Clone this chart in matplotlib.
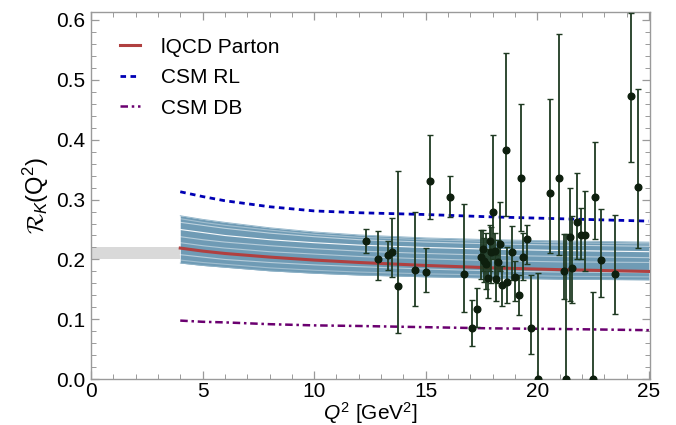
import numpy as np
import matplotlib
matplotlib.use("Agg")
import matplotlib.pyplot as plt
from matplotlib.ticker import MultipleLocator

plt.rcParams['font.family'] = ['Liberation Sans', 'DejaVu Sans']
plt.rcParams['mathtext.fontset'] = 'custom'
plt.rcParams['mathtext.rm'] = 'Liberation Sans'
plt.rcParams['mathtext.it'] = 'Liberation Sans:italic'
plt.rcParams['mathtext.cal'] = 'cmsy10'

# ---------------- data ----------------
# theory curves sampled at these Q^2 values
q2_curve = [4, 5, 6, 8, 10, 12, 15, 18, 21, 25]
iqcd_parton = [0.219, 0.214, 0.210, 0.204, 0.199, 0.195, 0.190, 0.186, 0.183, 0.180]
csm_rl = [0.313, 0.305, 0.298, 0.288, 0.281, 0.278, 0.275, 0.271, 0.268, 0.264]
csm_db = [0.098, 0.096, 0.095, 0.092, 0.090, 0.089, 0.087, 0.085, 0.084, 0.082]
band_hi = [0.273, 0.267, 0.262, 0.253, 0.246, 0.241, 0.236, 0.233, 0.231, 0.229]
band_lo = [0.194, 0.190, 0.187, 0.181, 0.177, 0.174, 0.171, 0.169, 0.167, 0.166]
band_line_a = [0.262, 0.257, 0.252, 0.244, 0.238, 0.233, 0.229, 0.226, 0.224, 0.222]
band_line_b = [0.250, 0.245, 0.240, 0.233, 0.228, 0.224, 0.220, 0.217, 0.215, 0.213]
band_line_c = [0.238, 0.233, 0.229, 0.223, 0.218, 0.214, 0.210, 0.207, 0.205, 0.203]
band_line_d = [0.228, 0.223, 0.219, 0.213, 0.209, 0.205, 0.201, 0.198, 0.196, 0.195]
band_line_e = [0.208, 0.204, 0.200, 0.195, 0.191, 0.188, 0.184, 0.181, 0.179, 0.178]
band_line_f = [0.268, 0.262, 0.257, 0.249, 0.242, 0.237, 0.233, 0.230, 0.228, 0.226]
band_line_g = [0.199, 0.195, 0.192, 0.186, 0.182, 0.179, 0.176, 0.174, 0.172, 0.171]

# lattice value at Q^2 = 0..4 (gray band)
gray_x = [0, 4]
gray_lo = 0.200
gray_hi = 0.221

# experimental points: Q^2, value, lower bound, upper bound
exp_q2 = [12.32, 12.84, 13.33, 13.48, 13.77, 14.52, 15.00, 15.21, 16.11, 16.72,
          17.08, 17.32, 17.46, 17.55, 17.62, 17.70, 17.80, 17.88, 17.93, 18.03,
          18.10, 18.17, 18.25, 18.35, 18.42, 18.60, 18.63, 18.86, 19.02, 19.18,
          19.29, 19.37, 19.55, 19.71, 20.02, 20.56, 20.99, 21.20, 21.30, 21.45,
          21.55, 21.76, 21.95, 22.13, 22.50, 22.60, 22.87, 23.50, 24.20, 24.52]
exp_val = [0.230, 0.201, 0.207, 0.212, 0.156, 0.183, 0.179, 0.331, 0.304, 0.176,
           0.085, 0.117, 0.204, 0.217, 0.198, 0.192, 0.169, 0.230, 0.212, 0.279,
           0.214, 0.168, 0.196, 0.225, 0.157, 0.382, 0.162, 0.213, 0.170, 0.141,
           0.336, 0.204, 0.234, 0.085, 0.000, 0.311, 0.336, 0.180, 0.000, 0.237,
           0.186, 0.263, 0.240, 0.240, 0.000, 0.304, 0.199, 0.175, 0.473, 0.321]
exp_lo = [0.210, 0.165, 0.183, 0.171, 0.078, 0.123, 0.146, 0.268, 0.271, 0.112,
          0.055, 0.087, 0.168, 0.180, 0.163, 0.150, 0.135, 0.180, 0.160, 0.200,
          0.170, 0.130, 0.160, 0.180, 0.123, 0.272, 0.128, 0.165, 0.130, 0.108,
          0.248, 0.166, 0.192, 0.043, -0.050, 0.210, 0.207, 0.134, -0.050, 0.130,
          0.127, 0.200, 0.201, 0.181, -0.050, 0.234, 0.137, 0.109, 0.363, 0.219]
exp_hi = [0.251, 0.248, 0.230, 0.270, 0.347, 0.280, 0.219, 0.408, 0.339, 0.293,
          0.132, 0.152, 0.250, 0.250, 0.235, 0.245, 0.218, 0.258, 0.255, 0.408,
          0.245, 0.208, 0.232, 0.296, 0.189, 0.545, 0.220, 0.256, 0.197, 0.174,
          0.460, 0.245, 0.258, 0.174, 0.178, 0.467, 0.577, 0.242, 0.242, 0.320,
          0.272, 0.344, 0.286, 0.314, 0.146, 0.396, 0.284, 0.275, 0.612, 0.484]

# ---------------- plot ----------------
fig = plt.figure(figsize=(6.76, 4.25), dpi=100)
ax = fig.add_axes([0.1346, 0.1075, 0.8269, 0.8643])

ax.fill_between(gray_x, gray_lo, gray_hi, color='#d9d9d9', lw=0, zorder=1)

band_color = '#6f9bb5'
ax.fill_between(q2_curve, band_lo, band_hi, color=band_color, lw=0, zorder=2)
for ln, a in [(band_line_f, 0.35), (band_line_a, 0.55), (band_line_b, 0.95),
              (band_line_c, 0.5), (band_line_d, 0.45), (band_line_e, 0.5),
              (band_line_g, 0.35)]:
    ax.plot(q2_curve, ln, color='white', lw=0.8, alpha=a, zorder=2.5)
for ln in [band_hi, band_lo]:
    ax.plot(q2_curve, ln, color='#8fb3c8', lw=0.6, zorder=2.5)

ax.plot(q2_curve, iqcd_parton, color='#b04040', lw=2.2, zorder=3, label='lQCD Parton')
ax.plot(q2_curve, csm_rl, color='#0000b4', lw=2.0, ls=(0, (2.0, 1.6)), zorder=3,
        label='CSM RL')
ax.plot(q2_curve, csm_db, color='#6b0070', lw=1.8, ls=(0, (3.0, 1.5, 1.0, 1.5)), zorder=3,
        label='CSM DB')

exp_val_a = np.array(exp_val)
yerr = np.vstack([exp_val_a - np.array(exp_lo), np.array(exp_hi) - exp_val_a])
ax.errorbar(exp_q2, exp_val, yerr=yerr, fmt='o', color='#0e1f0e', ms=4.8,
            ecolor='#1f3a22', elinewidth=1.3, capsize=2.2, capthick=1.0, zorder=4)

ax.set_xlim(0, 25.05)
ax.set_ylim(0, 0.613)
ax.xaxis.set_major_locator(MultipleLocator(5))
ax.xaxis.set_minor_locator(MultipleLocator(1))
ax.yaxis.set_major_locator(MultipleLocator(0.1))
ax.yaxis.set_minor_locator(MultipleLocator(0.02))
ax.yaxis.set_major_formatter(matplotlib.ticker.FormatStrFormatter('%.1f'))

for s in ax.spines.values():
    s.set_color('#9a9a9a')
    s.set_linewidth(1.0)
ax.tick_params(which='both', direction='in', top=True, right=True, colors='#9a9a9a',
               labelcolor='black', labelsize=15)
ax.tick_params(which='major', length=6, width=0.9)
ax.tick_params(which='minor', length=3.5, width=0.7)
ax.tick_params(axis='x', pad=2)
ax.tick_params(axis='y', pad=4)

ax.set_xlabel(r'$Q^2$ [GeV$^2$]', fontsize=15, labelpad=-1)
ax.set_ylabel(r'$\mathcal{R}_K$(Q$^2$)', fontsize=17, labelpad=4)

leg = ax.legend(loc='upper left', frameon=False, fontsize=15, handlelength=1.0,
                handletextpad=1.0, labelspacing=0.55, borderaxespad=0.3,
                bbox_to_anchor=(0.025, 0.97))

fig.savefig('out.png', dpi=100)
